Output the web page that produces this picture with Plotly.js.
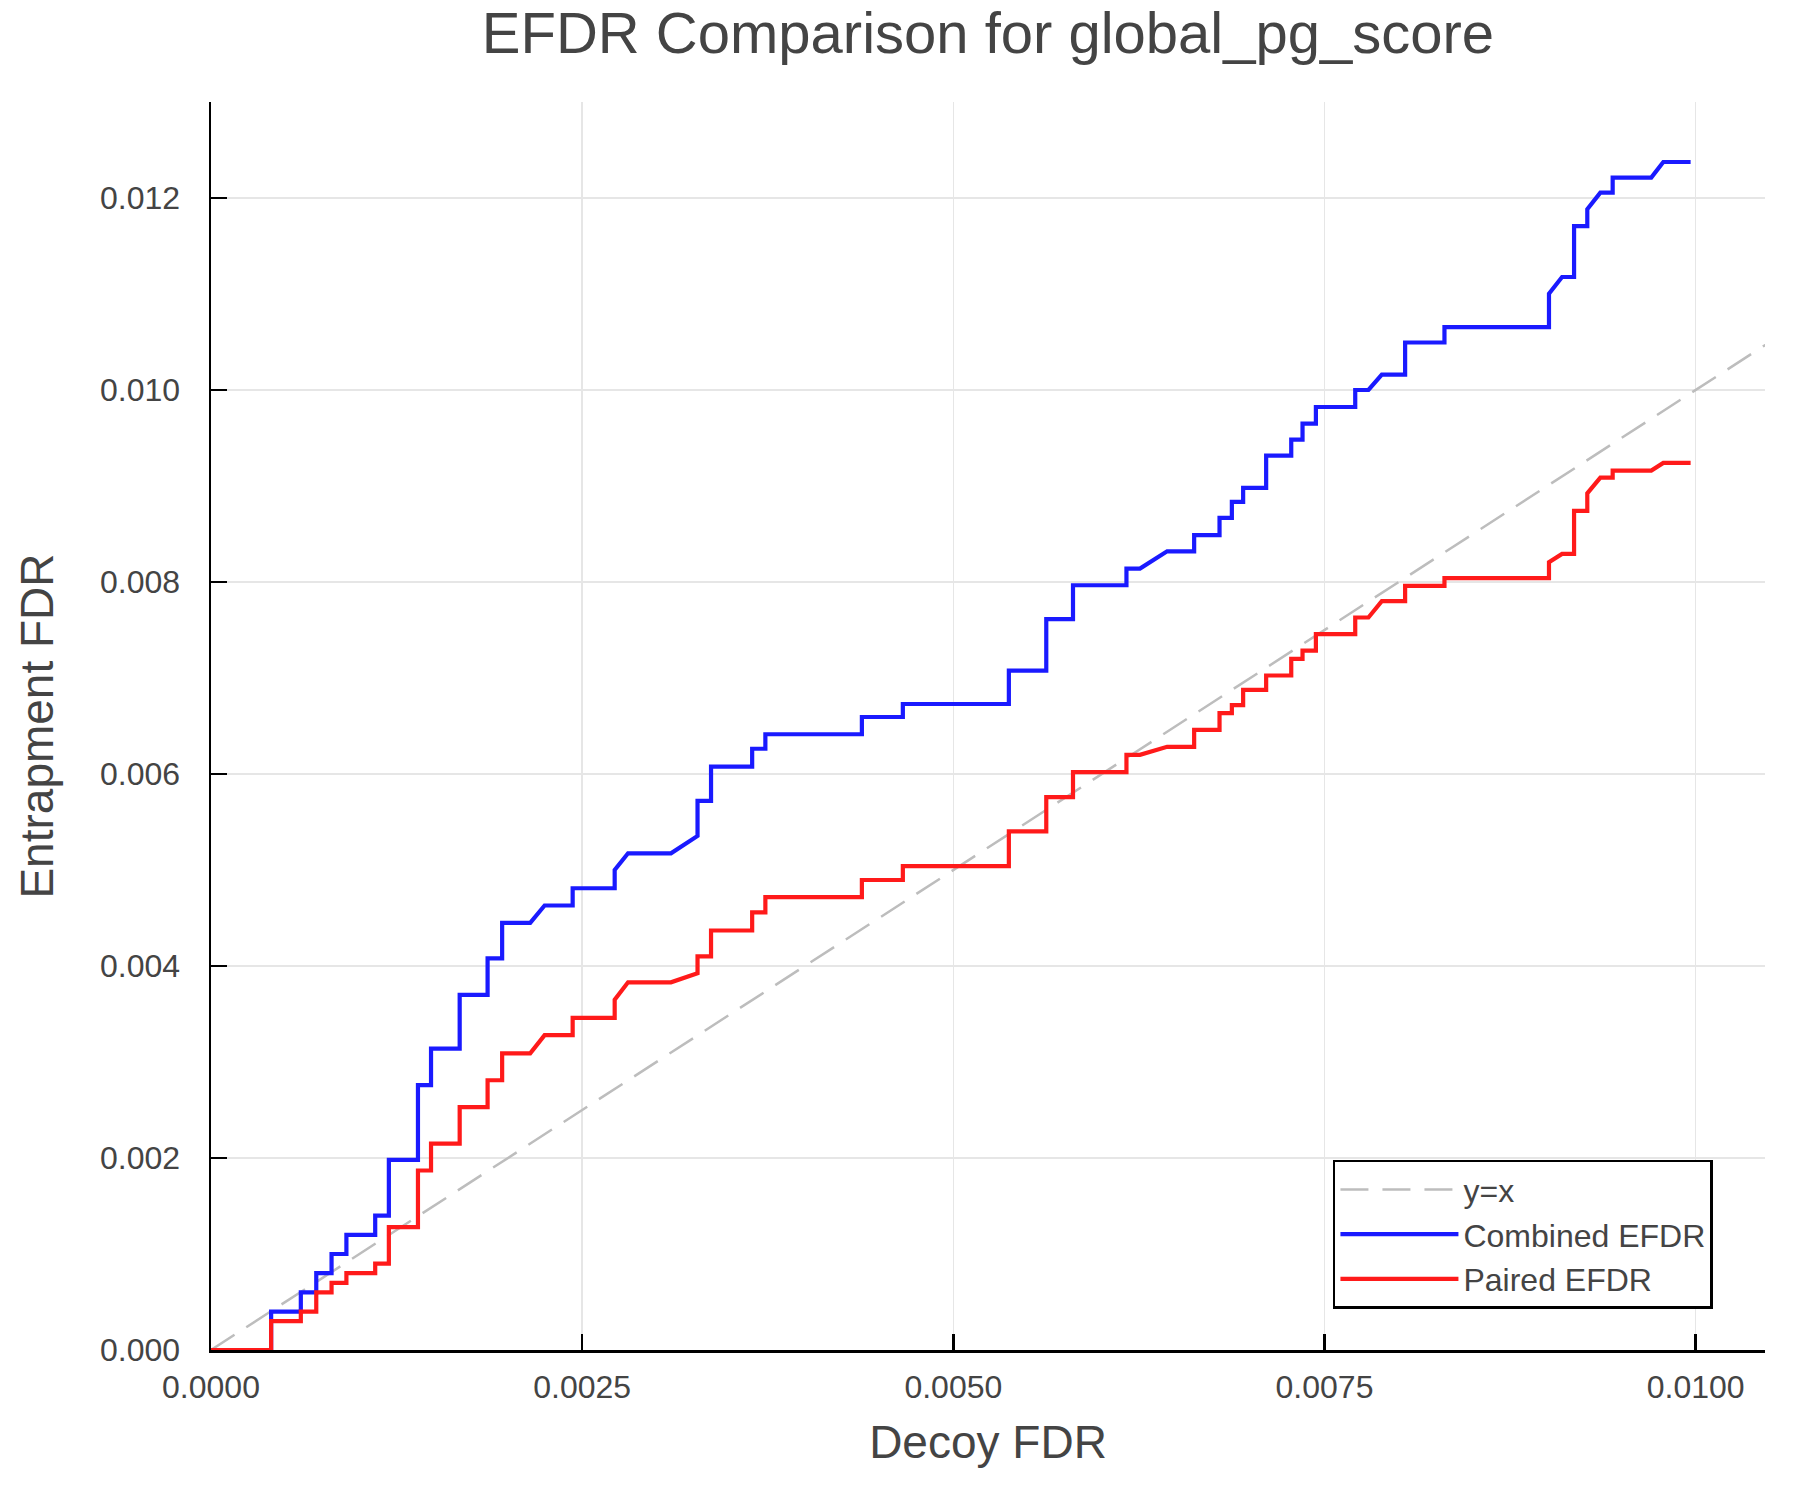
<!DOCTYPE html>
<html>
<head>
<meta charset="utf-8">
<script src="https://cdn.plot.ly/plotly-3.0.1.min.js"></script>
<style>
  body { margin: 0; background: #ffffff; }
  #chart { width: 1800px; height: 1500px; }
</style>
</head>
<body>
<div id="chart"></div>
<script>
// Decoy FDR at each vertex of the two curves (shared by both series)
const decoyFdr = [
  0,
  0.000405, 0.000405,
  0.000605, 0.000605,
  0.000709, 0.000709,
  0.000812, 0.000812,
  0.000912, 0.000912,
  0.001106, 0.001106,
  0.001198, 0.001198,
  0.001394, 0.001394,
  0.001482, 0.001482,
  0.001675, 0.001675,
  0.001863, 0.001863,
  0.001961, 0.001961,
  0.00215, 0.002247,
  0.002436, 0.002436,
  0.002719, 0.002719, 0.002809,
  0.003098, 0.003277, 0.003277,
  0.003368, 0.003368,
  0.003645, 0.003645,
  0.003734, 0.003734,
  0.004384, 0.004384,
  0.00466, 0.00466,
  0.005374, 0.005374,
  0.005626, 0.005626,
  0.005806, 0.005806,
  0.006166, 0.006166,
  0.006257, 0.00644,
  0.006622, 0.006622,
  0.006793, 0.006793,
  0.006876, 0.006876,
  0.006952, 0.006952,
  0.007107, 0.007107,
  0.007276, 0.007276,
  0.007352, 0.007352,
  0.007442, 0.007442,
  0.007707, 0.007707,
  0.007796, 0.007886,
  0.008043, 0.008043,
  0.008308, 0.008308,
  0.009012, 0.009012, 0.0091,
  0.009181, 0.009181,
  0.00927, 0.00927, 0.009358,
  0.009441, 0.009441,
  0.009701, 0.009782,
  0.009966
];

// Combined EFDR (blue)
const combinedEfdr = [
  0,
  0, 0.0004,
  0.0004, 0.0006,
  0.0006, 0.0008,
  0.0008, 0.001,
  0.001, 0.0012,
  0.0012, 0.0014,
  0.0014, 0.00198,
  0.00198, 0.00276,
  0.00276, 0.00314,
  0.00314, 0.0037,
  0.0037, 0.00408,
  0.00408, 0.00445,
  0.00445, 0.00463,
  0.00463, 0.00481,
  0.00481, 0.005, 0.005174,
  0.005174, 0.005355, 0.00572,
  0.00572, 0.006076,
  0.006076, 0.006263,
  0.006263, 0.006414,
  0.006414, 0.006594,
  0.006594, 0.006729,
  0.006729, 0.007076,
  0.007076, 0.007614,
  0.007614, 0.007966,
  0.007966, 0.00814,
  0.00814, 0.00832,
  0.00832, 0.008488,
  0.008488, 0.008667,
  0.008667, 0.008834,
  0.008834, 0.00898,
  0.00898, 0.009316,
  0.009316, 0.009483,
  0.009483, 0.00965,
  0.00965, 0.009823,
  0.009823, 0.01,
  0.01, 0.01016,
  0.01016, 0.010495,
  0.010495, 0.010654,
  0.010654, 0.011003, 0.011177,
  0.011177, 0.011708,
  0.011708, 0.011882, 0.012056,
  0.012056, 0.012212,
  0.012212, 0.012375,
  0.012375
];

// Paired EFDR (red)
const pairedEfdr = [
  0,
  0, 0.0003,
  0.0003, 0.0004,
  0.0004, 0.0006,
  0.0006, 0.0007,
  0.0007, 0.0008,
  0.0008, 0.0009,
  0.0009, 0.00128,
  0.00128, 0.00187,
  0.00187, 0.00215,
  0.00215, 0.00253,
  0.00253, 0.00281,
  0.00281, 0.00309,
  0.00309, 0.00328,
  0.00328, 0.00346,
  0.00346, 0.00365, 0.00383,
  0.00383, 0.003924, 0.0041,
  0.0041, 0.00437,
  0.00437, 0.004558,
  0.004558, 0.004717,
  0.004717, 0.004896,
  0.004896, 0.00504,
  0.00504, 0.005402,
  0.005402, 0.00576,
  0.00576, 0.00602,
  0.00602, 0.0062,
  0.0062, 0.006283,
  0.006283, 0.00646,
  0.00646, 0.006635,
  0.006635, 0.006717,
  0.006717, 0.006877,
  0.006877, 0.007026,
  0.007026, 0.0072,
  0.0072, 0.007286,
  0.007286, 0.007456,
  0.007456, 0.00763,
  0.00763, 0.0078,
  0.0078, 0.00796,
  0.00796, 0.00804,
  0.00804, 0.008206, 0.008292,
  0.008292, 0.00874,
  0.00874, 0.008924, 0.009087,
  0.009087, 0.00916,
  0.00916, 0.00924,
  0.00924
];

// reference diagonal y = x
const diagonal = [0, 0.011];

const xTicks = [0, 0.0025, 0.005, 0.0075, 0.01];
const yTicks = [0, 0.002, 0.004, 0.006, 0.008, 0.010, 0.012];

const fontFamily = '"Liberation Sans", Helvetica, Arial, sans-serif';
const textColor = '#444444';

const data = [
  {
    type: 'scatter', mode: 'lines', name: 'y=x',
    x: diagonal, y: diagonal,
    line: { color: '#bdbdbd', width: 2.5, dash: '28px,14px' }
  },
  {
    type: 'scatter', mode: 'lines', name: 'Combined EFDR',
    x: decoyFdr, y: combinedEfdr,
    line: { color: '#1a1aff', width: 4.2 }
  },
  {
    type: 'scatter', mode: 'lines', name: 'Paired EFDR',
    x: decoyFdr, y: pairedEfdr,
    line: { color: '#ff1a1a', width: 4.2 }
  }
];

const axisCommon = {
  showline: true,
  linecolor: '#000000',
  linewidth: 2.5,
  mirror: false,
  ticks: 'inside',
  ticklen: 16,
  tickwidth: 2.5,
  tickcolor: '#000000',
  showgrid: true,
  gridcolor: '#e6e6e6',
  gridwidth: 1.5,
  zeroline: false,
  tickfont: { family: fontFamily, size: 32, color: textColor }
};

const layout = {
  width: 1800,
  height: 1500,
  paper_bgcolor: '#ffffff',
  plot_bgcolor: '#ffffff',
  margin: { l: 211, r: 35, t: 102, b: 150 },
  font: { family: fontFamily, color: textColor },
  title: {
    text: 'EFDR Comparison for global_pg_score',
    font: { family: fontFamily, size: 58, color: textColor },
    x: 0.5, xref: 'paper',
    y: 0.978, yref: 'container', yanchor: 'middle'
  },
  xaxis: Object.assign({}, axisCommon, {
    range: [0, 0.010467],
    tickvals: xTicks,
    tickformat: '.4f',
    ticklabelstandoff: 7,
    title: { text: 'Decoy FDR', font: { family: fontFamily, size: 46, color: textColor }, standoff: 22 }
  }),
  yaxis: Object.assign({}, axisCommon, {
    range: [0, 0.013],
    tickvals: yTicks,
    tickformat: '.3f',
    ticklabelstandoff: 22,
    title: { text: 'Entrapment FDR', font: { family: fontFamily, size: 46, color: textColor }, standoff: 32 }
  }),
  showlegend: true,
  legend: {
    x: 0.9665, xanchor: 'right',
    y: 0.033, yanchor: 'bottom',
    bgcolor: '#ffffff',
    bordercolor: '#000000',
    borderwidth: 2.5,
    font: { family: fontFamily, size: 32, color: textColor },
    itemwidth: 118,
    tracegroupgap: 0
  }
};

Plotly.newPlot('chart', data, layout, { displayModeBar: false, staticPlot: true });
</script>
</body>
</html>
